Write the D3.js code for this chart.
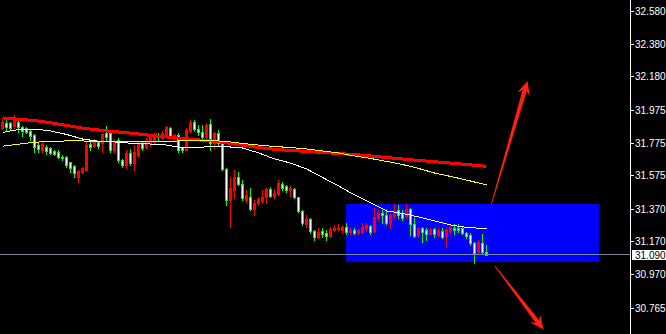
<!DOCTYPE html>
<html>
<head>
<meta charset="utf-8">
<script src="https://cdn.jsdelivr.net/npm/d3@7"></script>
<style>
  html, body { margin: 0; padding: 0; background: #000; overflow: hidden; }
  svg { display: block; }
</style>
</head>
<body>
<svg id="chart" width="666" height="334"></svg>
<script>
// ---- OHLC bars (oldest first) ----
const barOpen = [
  31.864, 31.895, 31.895, 31.876, 31.901, 31.870, 31.864, 31.846, 31.821, 31.760,
  31.730, 31.748, 31.742, 31.724, 31.717, 31.687, 31.687, 31.656, 31.632, 31.565,
  31.595, 31.607, 31.766, 31.754, 31.779, 31.772, 31.834, 31.834, 31.730, 31.791,
  31.668, 31.638, 31.711, 31.650, 31.699, 31.772, 31.748, 31.772, 31.779, 31.821,
  31.803, 31.827, 31.864, 31.803, 31.821, 31.748, 31.730, 31.846, 31.901, 31.858,
  31.840, 31.809, 31.889, 31.772, 31.834, 31.772, 31.613, 31.424, 31.485, 31.565,
  31.522, 31.424, 31.442, 31.369, 31.406, 31.418, 31.442, 31.491, 31.448, 31.461,
  31.522, 31.509, 31.485, 31.491, 31.442, 31.357, 31.277, 31.308, 31.234, 31.198,
  31.234, 31.222, 31.204, 31.241, 31.247, 31.241, 31.259, 31.228, 31.241, 31.222,
  31.228, 31.253, 31.265, 31.234, 31.314, 31.344, 31.332, 31.283, 31.326, 31.363,
  31.344, 31.326, 31.369, 31.277, 31.210, 31.253, 31.241, 31.216, 31.247, 31.210,
  31.234, 31.204, 31.234, 31.253, 31.253, 31.253, 31.222, 31.210, 31.161, 31.106,
  31.161, 31.106
];
const barHigh = [
  31.913, 31.913, 31.901, 31.944, 31.919, 31.876, 31.870, 31.852, 31.827, 31.772,
  31.779, 31.760, 31.745, 31.730, 31.730, 31.699, 31.693, 31.659, 31.638, 31.607,
  31.626, 31.785, 31.785, 31.797, 31.782, 31.834, 31.876, 31.846, 31.797, 31.803,
  31.675, 31.730, 31.736, 31.760, 31.779, 31.785, 31.803, 31.815, 31.834, 31.834,
  31.846, 31.876, 31.870, 31.827, 31.834, 31.751, 31.864, 31.913, 31.913, 31.882,
  31.882, 31.895, 31.919, 31.840, 31.852, 31.779, 31.620, 31.565, 31.607, 31.595,
  31.546, 31.485, 31.497, 31.424, 31.442, 31.485, 31.497, 31.503, 31.491, 31.546,
  31.534, 31.516, 31.509, 31.497, 31.445, 31.363, 31.332, 31.314, 31.241, 31.253,
  31.253, 31.241, 31.259, 31.271, 31.277, 31.271, 31.283, 31.253, 31.253, 31.247,
  31.283, 31.283, 31.271, 31.375, 31.363, 31.363, 31.369, 31.344, 31.399, 31.393,
  31.363, 31.399, 31.372, 31.314, 31.256, 31.259, 31.253, 31.253, 31.253, 31.253,
  31.253, 31.253, 31.277, 31.277, 31.277, 31.256, 31.228, 31.222, 31.167, 31.179,
  31.216, 31.149
];
const barLow = [
  31.858, 31.846, 31.852, 31.864, 31.840, 31.815, 31.834, 31.791, 31.717, 31.717,
  31.717, 31.705, 31.708, 31.699, 31.681, 31.668, 31.626, 31.595, 31.565, 31.534,
  31.589, 31.604, 31.730, 31.748, 31.742, 31.717, 31.791, 31.717, 31.717, 31.656,
  31.626, 31.620, 31.638, 31.607, 31.687, 31.730, 31.742, 31.754, 31.772, 31.791,
  31.797, 31.821, 31.809, 31.791, 31.717, 31.717, 31.727, 31.834, 31.846, 31.821,
  31.803, 31.803, 31.730, 31.742, 31.760, 31.607, 31.393, 31.259, 31.436, 31.516,
  31.424, 31.412, 31.363, 31.332, 31.399, 31.406, 31.406, 31.442, 31.436, 31.454,
  31.485, 31.473, 31.448, 31.436, 31.351, 31.271, 31.259, 31.222, 31.179, 31.191,
  31.198, 31.179, 31.198, 31.234, 31.241, 31.222, 31.216, 31.216, 31.216, 31.216,
  31.222, 31.241, 31.216, 31.228, 31.302, 31.283, 31.277, 31.253, 31.314, 31.314,
  31.302, 31.314, 31.210, 31.198, 31.198, 31.167, 31.179, 31.210, 31.198, 31.204,
  31.191, 31.136, 31.222, 31.216, 31.228, 31.216, 31.191, 31.149, 31.039, 31.100,
  31.100, 31.088
];
const barClose = [
  31.901, 31.870, 31.864, 31.913, 31.870, 31.846, 31.840, 31.815, 31.748, 31.736,
  31.766, 31.724, 31.711, 31.705, 31.687, 31.681, 31.638, 31.620, 31.589, 31.601,
  31.620, 31.760, 31.748, 31.791, 31.754, 31.827, 31.809, 31.730, 31.785, 31.668,
  31.638, 31.711, 31.650, 31.717, 31.772, 31.742, 31.779, 31.809, 31.821, 31.809,
  31.834, 31.870, 31.815, 31.821, 31.730, 31.730, 31.852, 31.901, 31.858, 31.840,
  31.809, 31.882, 31.772, 31.834, 31.772, 31.613, 31.424, 31.497, 31.565, 31.522,
  31.436, 31.454, 31.369, 31.406, 31.430, 31.442, 31.491, 31.448, 31.467, 31.528,
  31.497, 31.485, 31.497, 31.442, 31.357, 31.283, 31.308, 31.234, 31.198, 31.228,
  31.216, 31.204, 31.247, 31.253, 31.253, 31.259, 31.228, 31.241, 31.222, 31.241,
  31.259, 31.271, 31.228, 31.320, 31.344, 31.332, 31.283, 31.332, 31.357, 31.332,
  31.314, 31.369, 31.277, 31.204, 31.253, 31.228, 31.216, 31.247, 31.216, 31.241,
  31.198, 31.241, 31.259, 31.241, 31.241, 31.222, 31.204, 31.161, 31.100, 31.167,
  31.106, 31.090
];

// ---- moving averages, sampled at these bar indices ----
const maIndex = [0, 4, 8, 12, 16, 20, 24, 28, 32, 36, 40, 44, 48, 52, 56, 60,
                 64, 68, 72, 76, 80, 84, 88, 92, 96, 100, 104, 108, 112, 116, 120, 121];
const maFast = [31.837, 31.855, 31.858, 31.846, 31.825, 31.797, 31.783, 31.779, 31.771, 31.767,
                31.764, 31.748, 31.745, 31.750, 31.750, 31.742, 31.712, 31.675, 31.650, 31.614,
                31.562, 31.510, 31.455, 31.406, 31.357, 31.342, 31.320, 31.296, 31.271, 31.256,
                31.250, 31.250];
const maMid  = [31.753, 31.765, 31.777, 31.783, 31.785, 31.785, 31.782, 31.779, 31.779, 31.779,
                31.782, 31.785, 31.788, 31.788, 31.782, 31.770, 31.760, 31.751, 31.745, 31.736,
                31.724, 31.712, 31.693, 31.678, 31.660, 31.641, 31.617, 31.589, 31.568, 31.546,
                31.522, 31.516];
const maSlow = [31.926, 31.918, 31.910, 31.896, 31.880, 31.864, 31.852, 31.842, 31.833, 31.822,
                31.812, 31.803, 31.794, 31.785, 31.774, 31.760, 31.745, 31.734, 31.727, 31.721,
                31.715, 31.708, 31.702, 31.693, 31.684, 31.675, 31.666, 31.658, 31.650, 31.641,
                31.632, 31.629];

// ---- price axis ----
const priceTicks = [32.580, 32.380, 32.180, 31.975, 31.775, 31.575, 31.370, 31.170, 30.970, 30.765];
const bidPrice = 31.090;

// ---- drawn objects: [bar index, price] ----
const zoneStart = [86, 31.400];
const zoneEnd   = [149, 31.045];
const arrowUpFrom   = [122.25, 31.400];
const arrowUpTo     = [131.25, 32.152];
const arrowDownFrom = [123.1, 31.020];
const arrowDownTo   = [135.25, 30.632];

// ---- layout ----
const W = 666, H = 334, axisX = 630;
const svg = d3.select('#chart');
svg.append('rect').attr('width', W).attr('height', H).attr('fill', '#000');

// 4 px per bar
const x = d3.scaleLinear().domain([0, 1]).range([2.5, 6.5]);
const y = d3.scaleLinear().domain([30.765, 32.580]).range([307.7, 11]);

svg.append('clipPath').attr('id', 'plot')
  .append('rect').attr('x', 0).attr('y', 0).attr('width', axisX).attr('height', H);
const plot = svg.append('g').attr('clip-path', 'url(#plot)');

// highlighted range rectangle
const rx1 = Math.floor(x(zoneStart[0])), rx2 = Math.floor(x(zoneEnd[0])) + 1;
const ry1 = Math.round(y(zoneStart[1])), ry2 = Math.round(y(zoneEnd[1]));
plot.append('rect')
  .attr('x', rx1).attr('y', ry1).attr('width', rx2 - rx1).attr('height', ry2 - ry1)
  .attr('fill', '#0000ff').attr('shape-rendering', 'crispEdges');

// candles
const bars = d3.range(barOpen.length).map(i => ({
  i, o: barOpen[i], h: barHigh[i], l: barLow[i], c: barClose[i]
}));
const cg = plot.append('g').attr('shape-rendering', 'crispEdges');
bars.forEach(b => {
  const cx = Math.floor(x(b.i));
  const up = b.c >= b.o;
  const col = up ? '#ff0000' : '#00ff00';
  const yh = Math.round(y(b.h)), yl = Math.round(y(b.l));
  const yt = Math.round(y(Math.max(b.o, b.c))), yb = Math.round(y(Math.min(b.o, b.c)));
  cg.append('rect').attr('x', cx).attr('y', yh).attr('width', 1).attr('height', yl - yh + 1).attr('fill', col);
  cg.append('rect').attr('x', cx - 1).attr('y', yt).attr('width', 3).attr('height', yb - yt + 1).attr('fill', col);
  if (!up && yb - yt - 1 > 0) {
    cg.append('rect').attr('x', cx).attr('y', yt + 1).attr('width', 1).attr('height', yb - yt - 1).attr('fill', '#ffffff');
  }
});

// moving averages
const maLine = d3.line().x(d => x(d[0])).y(d => y(d[1]));
[[maSlow, '#ff0000', 3], [maMid, '#ffff00', 1], [maFast, '#ffffff', 1]].forEach(([vals, col, w]) => {
  plot.append('path')
    .attr('d', maLine(maIndex.map((k, j) => [k, vals[j]])))
    .attr('fill', 'none').attr('stroke', col).attr('stroke-width', w)
    .attr('shape-rendering', 'crispEdges');
});

// current price line
const by = Math.floor(y(bidPrice)) + 0.5;
plot.append('line').attr('x1', 0).attr('x2', axisX).attr('y1', by).attr('y2', by)
  .attr('stroke', '#778899').attr('stroke-width', 1);

// arrows
function arrowPoints(from, to) {
  const tx = x(from[0]), ty = y(from[1]), px = x(to[0]), py = y(to[1]);
  const dx = px - tx, dy = py - ty, len = Math.hypot(dx, dy);
  const ux = dx / len, uy = dy / len, nx = -uy, ny = ux;
  const neck = 10, head = 14, hw = 6.5, sn = 2.2, st = 0.4;
  const Nx = px - ux * neck, Ny = py - uy * neck;
  const Bx = px - ux * head, By = py - uy * head;
  return [
    [tx + nx * st, ty + ny * st], [Nx + nx * sn, Ny + ny * sn], [Bx + nx * hw, By + ny * hw],
    [px, py],
    [Bx - nx * hw, By - ny * hw], [Nx - nx * sn, Ny - ny * sn], [tx - nx * st, ty - ny * st]
  ];
}
[[arrowUpFrom, arrowUpTo], [arrowDownFrom, arrowDownTo]].forEach(([a, b]) => {
  plot.append('polygon')
    .attr('points', arrowPoints(a, b).map(p => p.join(',')).join(' '))
    .attr('fill', '#ff2010');
});

// price scale
svg.append('line').attr('x1', axisX + 0.5).attr('x2', axisX + 0.5).attr('y1', 0).attr('y2', H)
  .attr('stroke', '#ffffff').attr('stroke-width', 1).attr('shape-rendering', 'crispEdges');
const ax = svg.append('g').attr('font-family', '"Liberation Sans", Arial, sans-serif').attr('font-size', 10);
priceTicks.forEach(v => {
  const ty = Math.round(y(v));
  ax.append('rect').attr('x', axisX + 1).attr('y', ty).attr('width', 3).attr('height', 1)
    .attr('fill', '#ffffff').attr('shape-rendering', 'crispEdges');
  ax.append('text').attr('x', 635).attr('y', ty).attr('dy', '0.36em')
    .attr('fill', '#ffffff').text(d3.format('.3f')(v));
});
const bty = Math.round(y(bidPrice));
ax.append('rect').attr('x', axisX + 2).attr('y', bty - 5).attr('width', 34).attr('height', 10)
  .attr('fill', '#ffffff').attr('shape-rendering', 'crispEdges');
ax.append('text').attr('x', 635).attr('y', bty).attr('dy', '0.36em')
  .attr('fill', '#000000').text(d3.format('.3f')(bidPrice));
</script>
</body>
</html>
